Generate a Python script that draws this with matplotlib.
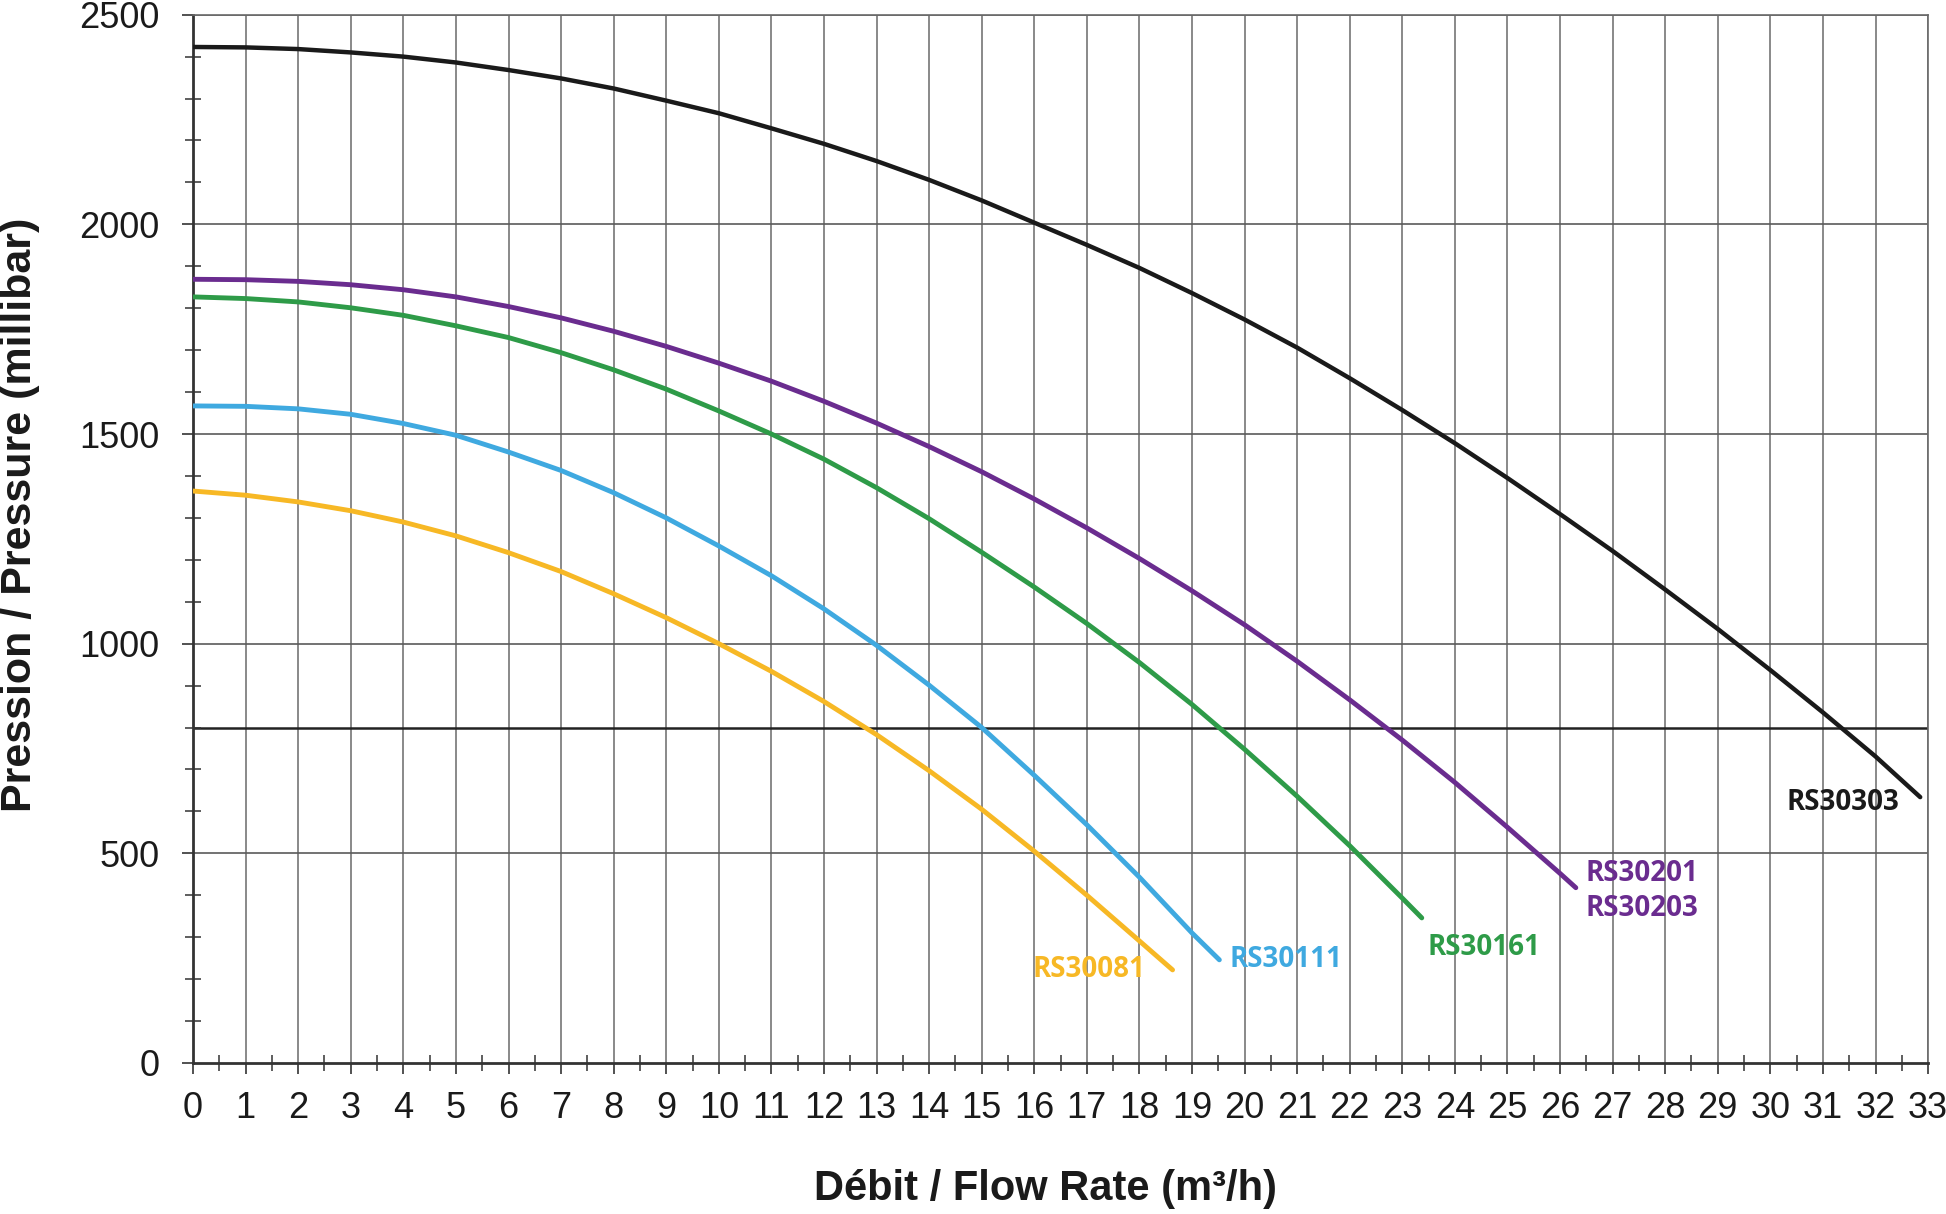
import matplotlib
matplotlib.use('Agg')
import matplotlib.pyplot as plt
from matplotlib.ticker import MultipleLocator

# data (flow m3/h, pressure millibar)
q_rs30303 = [0, 1, 2, 3, 4, 5, 6, 7, 8, 9, 10, 11, 12, 13, 14, 15, 16, 17, 18, 19, 20,
             21, 22, 23, 24, 25, 26, 27, 28, 29, 30, 31, 32, 32.85]
p_rs30303 = [2423, 2422, 2418, 2410, 2400, 2386, 2368, 2348, 2324, 2295, 2265, 2229, 2192,
             2151, 2106, 2057, 2004, 1951, 1896, 1836, 1773, 1706, 1633, 1557, 1478, 1395,
             1309, 1221, 1129, 1035, 937, 836, 731, 634]

q_rs30201 = [0, 1, 2, 3, 4, 5, 6, 7, 8, 9, 10, 11, 12, 13, 14, 15, 16, 17, 18, 19, 20,
             21, 22, 23, 24, 25, 26, 26.3]
p_rs30201 = [1869, 1868, 1864, 1856, 1844, 1827, 1804, 1777, 1745, 1709, 1669, 1626, 1578,
             1526, 1470, 1410, 1345, 1276, 1203, 1126, 1045, 958, 866, 770, 669, 562, 452, 418]

q_rs30161 = [0, 1, 2, 3, 4, 5, 6, 7, 8, 9, 10, 11, 12, 13, 14, 15, 16, 17, 18, 19, 20,
             21, 22, 23, 23.37]
p_rs30161 = [1827, 1823, 1815, 1801, 1783, 1758, 1730, 1694, 1653, 1607, 1555, 1500, 1440,
             1372, 1298, 1218, 1135, 1048, 955, 855, 748, 636, 518, 393, 346]

q_rs30111 = [0, 1, 2, 3, 4, 5, 6, 7, 8, 9, 10, 11, 12, 13, 14, 15, 16, 17, 18, 19, 19.52]
p_rs30111 = [1567, 1566, 1560, 1547, 1525, 1497, 1457, 1413, 1360, 1300, 1233, 1162, 1083,
             996, 901, 800, 686, 568, 443, 310, 246]

q_rs30081 = [0, 1, 2, 3, 4, 5, 6, 7, 8, 9, 10, 11, 12, 13, 14, 15, 16, 17, 18, 18.63]
p_rs30081 = [1364, 1354, 1338, 1317, 1290, 1257, 1217, 1172, 1119, 1062, 1000, 934, 862,
             783, 697, 605, 505, 400, 291, 222]

x_ticks = list(range(0, 34))
y_ticks = [0, 500, 1000, 1500, 2000, 2500]
ref_pressure = 800

fig = plt.figure(figsize=(19.46, 12.14), dpi=100)
ax = fig.add_axes([0.0992, 0.1244, 0.8916, 0.8635])

# grille
for q in x_ticks:
    ax.axvline(q, color='#6a6a6a', lw=1.1, zorder=1)
for p in y_ticks[1:]:
    ax.axhline(p, color='#5a5a5a', lw=1.2, zorder=1)
ax.axhline(ref_pressure, color='#222222', lw=1.8, zorder=1)

# courbes
ax.plot(q_rs30303, p_rs30303, color='#1a1a1a', lw=3.2, solid_capstyle='round', zorder=3)
ax.plot(q_rs30201, p_rs30201, color='#6a2c8f', lw=3.5, solid_capstyle='round', zorder=3)
ax.plot(q_rs30161, p_rs30161, color='#2e9b48', lw=3.5, solid_capstyle='round', zorder=3)
ax.plot(q_rs30111, p_rs30111, color='#3fa9e0', lw=3.5, solid_capstyle='round', zorder=3)
ax.plot(q_rs30081, p_rs30081, color='#f7b825', lw=3.5, solid_capstyle='round', zorder=3)

# étiquettes des courbes
lab = dict(fontsize=20, fontweight='bold', family=['Open Sans', 'DejaVu Sans'],
           ha='left', va='center', zorder=4)
ax.text(30.3, 622, 'RS30303', color='#1a1a1a', **lab)
ax.text(26.48, 452, 'RS30201', color='#6a2c8f', **lab)
ax.text(26.48, 368, 'RS30203', color='#6a2c8f', **lab)
ax.text(23.48, 276, 'RS30161', color='#2e9b48', **lab)
ax.text(19.72, 246, 'RS30111', color='#3fa9e0', **lab)
ax.text(15.97, 222, 'RS30081', color='#f7b825', **lab)

ax.set_xlim(0, 33)
ax.set_ylim(0, 2500)
ax.set_xticks(x_ticks)
ax.set_yticks(y_ticks)
ax.xaxis.set_minor_locator(MultipleLocator(0.5))
ax.yaxis.set_minor_locator(MultipleLocator(100))

ax.tick_params(axis='both', which='major', direction='out', length=8, width=1.2,
               color='#333333', labelsize=26)
ax.tick_params(axis='x', which='major', pad=12)
ax.tick_params(axis='y', which='major', pad=16)
ax.tick_params(axis='both', which='minor', direction='inout', length=12, width=1.1,
               color='#333333')
for t in ax.get_xticklabels() + ax.get_yticklabels():
    t.set_family(['Liberation Sans', 'DejaVu Sans'])
    t.set_color('#1a1a1a')

for s in ['left', 'bottom']:
    ax.spines[s].set_color('#333333')
    ax.spines[s].set_linewidth(2)
for s in ['top', 'right']:
    ax.spines[s].set_color('#6a6a6a')
    ax.spines[s].set_linewidth(1.2)

# titres des axes
fig.text(0.537, 0.021, 'Débit / Flow Rate (m³/h)', ha='center', va='center',
         fontsize=30, fontweight='bold', color='#1a1a1a',
         family=['Liberation Sans', 'DejaVu Sans'])
fig.text(0.0105, 0.576, 'Pression / Pressure (millibar)', ha='center', va='center',
         rotation=90, fontsize=31, fontweight='bold', color='#1a1a1a',
         family=['Liberation Sans', 'DejaVu Sans'])

plt.savefig('out.png', dpi=100)
